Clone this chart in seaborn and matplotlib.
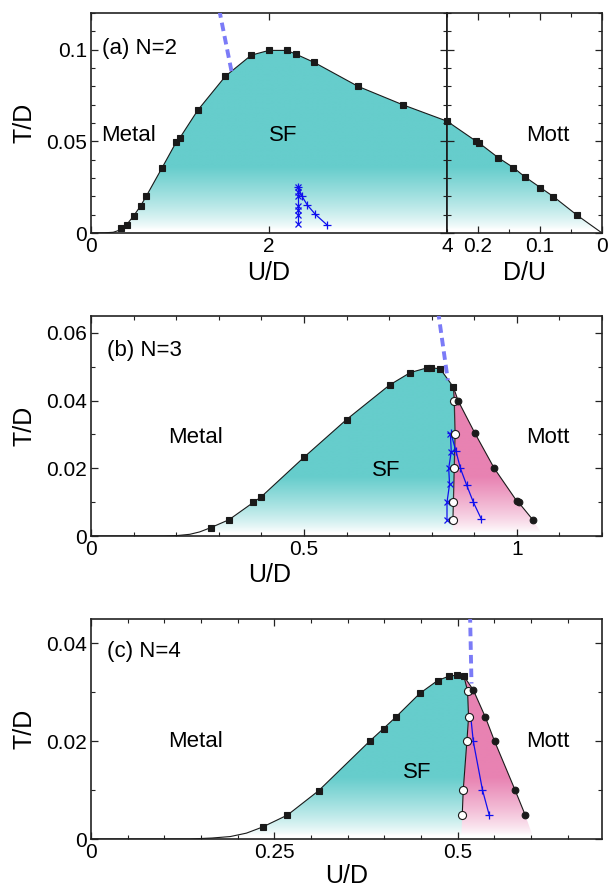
import numpy as np
import matplotlib
matplotlib.use("Agg")
import matplotlib.pyplot as plt
from matplotlib.colors import to_rgb
from matplotlib.ticker import MultipleLocator, FixedLocator
import seaborn as sns

# ---------------- data ----------------
# (a) N=2, left part in U/D
a_tail_U = [0.0, 0.15, 0.25, 0.30]
a_tail_T = [0.0, 0.0001, 0.0004, 0.0012]
a_sq_U = [0.334, 0.40, 0.48, 0.56, 0.62, 0.80, 0.96, 1.0, 1.2, 1.51, 1.80, 2.0, 2.2, 2.30, 2.51, 3.0, 3.5, 4.0]
a_sq_T = [0.0025, 0.0045, 0.0094, 0.015, 0.020, 0.0357, 0.0498, 0.052, 0.067, 0.0855, 0.097, 0.0996, 0.0996,
          0.0976, 0.093, 0.080, 0.070, 0.061]
# (a) right part in D/U
a_DU = [0.25, 0.2027, 0.199, 0.167, 0.143, 0.125, 0.0995, 0.0785, 0.0398]
a_DU_T = [0.061, 0.050, 0.0493, 0.041, 0.0357, 0.0308, 0.0248, 0.0199, 0.0096]
a_DU_end = [0.0]
a_DU_end_T = [0.0]
a_x_U = [2.33, 2.33, 2.33, 2.33, 2.33, 2.33, 2.33]
a_x_T = [0.025, 0.0225, 0.02, 0.015, 0.0125, 0.01, 0.005]
a_plus_U = [2.33, 2.367, 2.43, 2.52, 2.65]
a_plus_T = [0.025, 0.0203, 0.0153, 0.0102, 0.0045]
a_dash_U = [1.44, 1.58]
a_dash_T = [0.122, 0.0879]

# (b) N=3
b_tail_U = [0.0, 0.17, 0.20, 0.232, 0.255]
b_tail_T = [0.0, 0.0, 0.0001, 0.0005, 0.0012]
b_sq_U = [0.281, 0.324, 0.3815, 0.400, 0.4996, 0.600, 0.701, 0.750, 0.790, 0.799, 0.820, 0.851]
b_sq_T = [0.00246, 0.0048, 0.00995, 0.0116, 0.0232, 0.0344, 0.0446, 0.0483, 0.0497, 0.0497, 0.0494, 0.0440]
b_open_U = [0.853, 0.855, 0.853, 0.851, 0.850]
b_open_T = [0.040, 0.0302, 0.020, 0.00995, 0.0048]
b_fill_U = [0.862, 0.901, 0.947, 1.0, 1.004, 1.0375]
b_fill_T = [0.040, 0.0305, 0.020, 0.0103, 0.00995, 0.0048]
b_x_U = [0.844, 0.846, 0.840, 0.842, 0.836, 0.836]
b_x_T = [0.0301, 0.0249, 0.020, 0.0153, 0.00995, 0.0048]
b_plus_U = [0.845, 0.857, 0.8675, 0.882, 0.898, 0.917]
b_plus_T = [0.0304, 0.0251, 0.020, 0.0151, 0.00995, 0.0049]
b_dash_U = [0.815, 0.838]
b_dash_T = [0.0665, 0.046]
b_pink_bottom_U = [1.062, 0.850]   # where the pink region meets the T axis
b_pink_bottom_T = [0.0, 0.0]

# (c) N=4
c_tail_U = [0.0, 0.135, 0.165, 0.19, 0.212]
c_tail_T = [0.0, 0.0, 0.0002, 0.0005, 0.0012]
c_sq_U = [0.234, 0.268, 0.3105, 0.380, 0.399, 0.4155, 0.4486, 0.4727, 0.488, 0.4986, 0.5086]
c_sq_T = [0.00245, 0.0049, 0.00988, 0.0200, 0.0226, 0.0249, 0.0298, 0.0324, 0.0333, 0.0335, 0.0333]
c_open_U = [0.5136, 0.515, 0.5127, 0.5077, 0.5064]
c_open_T = [0.0303, 0.0249, 0.020, 0.00995, 0.005]
c_fill_U = [0.5214, 0.538, 0.5505, 0.5786, 0.592]
c_fill_T = [0.0305, 0.0249, 0.020, 0.00995, 0.005]
c_plus_U = [0.518, 0.5214, 0.534, 0.543]
c_plus_T = [0.025, 0.020, 0.010, 0.005]
c_dash_U = [0.517, 0.519]
c_dash_T = [0.046, 0.0318]
c_pink_bottom_U = [0.604, 0.505]
c_pink_bottom_T = [0.0, 0.0]

# ---------------- style ----------------
sns.set_theme(style="ticks")
plt.rcParams["font.family"] = ["Liberation Sans", "DejaVu Sans"]
plt.rcParams["axes.linewidth"] = 1.2
plt.rcParams["axes.edgecolor"] = "#222222"
plt.rcParams["text.color"] = "black"
plt.rcParams["axes.labelcolor"] = "black"

TEAL = "#66cdcc"
PINK = "#e882b2"
DASH = "#7b7bf7"
BLUE = "#1010ee"
TICKFS = 15
LABFS = 18
TXTFS = 16
SQ = 4.8

fig = plt.figure(figsize=(6.16, 8.88), dpi=100)
W, H = 616.0, 888.0


def axes_px(l, r, t, b):
    return fig.add_axes([l / W, (H - b) / H, (r - l) / W, (b - t) / H])


def grad_fill(ax, xs, ys, color, f0=0.015, f1=0.30):
    poly = ax.fill(xs, ys, facecolor="none", edgecolor="none")[0]
    xl, yl = ax.get_xlim(), ax.get_ylim()
    n = 300
    f = np.linspace(0, 1, n)
    a = np.clip((f - f0) / (f1 - f0), 0, 1) ** 0.8
    rgb = np.array(to_rgb(color))
    img = (1 - a)[:, None, None] * np.ones(3) + a[:, None, None] * rgb
    im = ax.imshow(img, extent=[xl[0], xl[1], yl[0], yl[1]], origin="lower",
                   aspect="auto", zorder=0.5, interpolation="bilinear")
    im.set_clip_path(poly)
    ax.set_xlim(xl)
    ax.set_ylim(yl)


def style_ticks(ax):
    ax.tick_params(which="both", direction="in", top=True, right=True,
                   labelsize=TICKFS, colors="#222222", labelcolor="black", pad=3)
    ax.tick_params(which="major", length=5, width=0.9)
    ax.tick_params(which="minor", length=3, width=0.8)
    for s in ax.spines.values():
        s.set_visible(True)


def line(ax, x, y, color="k", lw=0.8, **kw):
    sns.lineplot(x=x, y=y, sort=False, estimator=None, color=color, lw=lw, ax=ax, zorder=3, **kw)


def markers(ax, x, y, marker, size=SQ, mfc="k", mec="k", mew=0.8, z=4):
    sns.lineplot(x=x, y=y, sort=False, estimator=None, linestyle="", marker=marker,
                 markersize=size, markerfacecolor=mfc, markeredgecolor=mec,
                 markeredgewidth=mew, ax=ax, zorder=z)


# ================= panel (a) =================
axL = axes_px(91, 447, 13, 233)
axR = axes_px(447, 602, 13, 233)
for ax in (axL, axR):
    ax.set_ylim(0, 0.12)
axL.set_xlim(0, 4)
axR.set_xlim(0.25, 0)

curveU = a_tail_U + a_sq_U
curveT = a_tail_T + a_sq_T
grad_fill(axL, curveU + [4.0, 0.0], curveT + [0.0, 0.0], TEAL)
grad_fill(axR, a_DU + a_DU_end + [0.25], a_DU_T + a_DU_end_T + [0.0], TEAL)

line(axL, curveU, curveT)
markers(axL, a_sq_U, a_sq_T, "s")
line(axR, a_DU + a_DU_end, a_DU_T + a_DU_end_T)
markers(axR, a_DU, a_DU_T, "s")
line(axL, a_dash_U, a_dash_T, color=DASH, lw=2.8, linestyle=(0, (2.2, 1.3)))
line(axL, a_x_U, a_x_T, color=BLUE, lw=0.9)
markers(axL, a_x_U, a_x_T, "x", size=4.5, mfc=BLUE, mec=BLUE, mew=0.9)
line(axL, a_plus_U, a_plus_T, color=BLUE, lw=0.9)
markers(axL, a_plus_U, a_plus_T, "+", size=5.5, mfc=BLUE, mec=BLUE, mew=0.9)

axL.text(0.12, 0.1005, "(a) N=2", fontsize=TXTFS, ha="left", va="center")
axL.text(0.42, 0.0534, "Metal", fontsize=TXTFS, ha="center", va="center")
axL.text(2.16, 0.0534, "SF", fontsize=TXTFS, ha="center", va="center")
axR.text(0.087, 0.0534, "Mott", fontsize=TXTFS, ha="center", va="center")

for ax in (axL, axR):
    style_ticks(ax)
    ax.yaxis.set_major_locator(FixedLocator([0, 0.05, 0.1]))
    ax.yaxis.set_minor_locator(MultipleLocator(0.01))
axL.set_yticklabels(["0", "0.05", "0.1"])
axR.set_yticklabels([])
axL.xaxis.set_major_locator(FixedLocator([0, 2, 4]))
axL.set_xticklabels(["0", "2", "4"])
axR.xaxis.set_major_locator(FixedLocator([0.2, 0.1, 0.0]))
axR.set_xticklabels(["0.2", "0.1", "0"])
axR.xaxis.set_minor_locator(FixedLocator([0.25, 0.15, 0.05]))
axL.spines["right"].set_color("k")
axR.spines["left"].set_color("k")
axL.set_xlabel("U/D", fontsize=LABFS)
axR.set_xlabel("D/U", fontsize=LABFS)
axL.set_ylabel("T/D", fontsize=LABFS)
axL.xaxis.set_label_coords(0.5, -0.125)
axR.xaxis.set_label_coords(0.5, -0.125)
axL.yaxis.set_label_coords((36 - 91) / 356.0, 0.5)

# ================= panel (b) =================
axb = axes_px(91, 602, 316, 536)
axb.set_xlim(0, 1.2)
axb.set_ylim(0, 0.065)
curveU = b_tail_U + b_sq_U
curveT = b_tail_T + b_sq_T
grad_fill(axb, curveU + b_open_U + [b_open_U[-1]], curveT + b_open_T + [0.0], TEAL, f1=0.27)
pinkU = [b_sq_U[-1]] + b_fill_U + b_pink_bottom_U + b_open_U[::-1]
pinkT = [b_sq_T[-1]] + b_fill_T + b_pink_bottom_T + b_open_T[::-1]
grad_fill(axb, pinkU, pinkT, PINK, f1=0.27)

line(axb, curveU, curveT)
markers(axb, b_sq_U, b_sq_T, "s")
line(axb, [b_sq_U[-1]] + b_open_U, [b_sq_T[-1]] + b_open_T, color="#333333", lw=0.9)
line(axb, [b_sq_U[-1]] + b_fill_U, [b_sq_T[-1]] + b_fill_T)
line(axb, b_dash_U, b_dash_T, color=DASH, lw=2.8, linestyle=(0, (2.2, 1.3)))
line(axb, b_x_U, b_x_T, color=BLUE, lw=0.9)
markers(axb, b_x_U, b_x_T, "x", size=4.5, mfc=BLUE, mec=BLUE, mew=0.9)
line(axb, b_plus_U, b_plus_T, color=BLUE, lw=0.9)
markers(axb, b_plus_U, b_plus_T, "+", size=5.5, mfc=BLUE, mec=BLUE, mew=0.9)
markers(axb, b_open_U, b_open_T, "o", size=5.8, mfc="white", mec="k", mew=0.8, z=5)
markers(axb, b_fill_U, b_fill_T, "o", size=4.8, z=5)

axb.text(0.037, 0.0547, "(b) N=3", fontsize=TXTFS, ha="left", va="center")
axb.text(0.2455, 0.029, "Metal", fontsize=TXTFS, ha="center", va="center")
axb.text(0.6935, 0.0195, "SF", fontsize=TXTFS, ha="center", va="center")
axb.text(1.073, 0.029, "Mott", fontsize=TXTFS, ha="center", va="center")

style_ticks(axb)
axb.xaxis.set_major_locator(FixedLocator([0, 0.5, 1.0]))
axb.set_xticklabels(["0", "0.5", "1"])
axb.xaxis.set_minor_locator(MultipleLocator(0.1))
axb.yaxis.set_major_locator(FixedLocator([0, 0.02, 0.04, 0.06]))
axb.set_yticklabels(["0", "0.02", "0.04", "0.06"])
axb.yaxis.set_minor_locator(MultipleLocator(0.01))
axb.set_xlabel("U/D", fontsize=LABFS)
axb.set_ylabel("T/D", fontsize=LABFS)
axb.xaxis.set_label_coords(0.35, -0.125)
axb.yaxis.set_label_coords((36 - 91) / 511.0, 0.5)

# ================= panel (c) =================
axc = axes_px(91, 602, 619, 839)
axc.set_xlim(0, 0.697)
axc.set_ylim(0, 0.045)
curveU = c_tail_U + c_sq_U
curveT = c_tail_T + c_sq_T
grad_fill(axc, curveU + c_open_U + [c_open_U[-1]], curveT + c_open_T + [0.0], TEAL, f1=0.28)
pinkU = [c_sq_U[-1]] + c_fill_U + c_pink_bottom_U + c_open_U[::-1]
pinkT = [c_sq_T[-1]] + c_fill_T + c_pink_bottom_T + c_open_T[::-1]
grad_fill(axc, pinkU, pinkT, PINK, f1=0.28)

line(axc, curveU, curveT)
markers(axc, c_sq_U, c_sq_T, "s")
line(axc, [c_sq_U[-1]] + c_open_U, [c_sq_T[-1]] + c_open_T)
line(axc, [c_sq_U[-1]] + c_fill_U, [c_sq_T[-1]] + c_fill_T)
line(axc, c_dash_U, c_dash_T, color=DASH, lw=2.8, linestyle=(0, (2.2, 1.3)))
line(axc, c_plus_U, c_plus_T, color=BLUE, lw=0.9)
markers(axc, c_plus_U[1:], c_plus_T[1:], "+", size=5.5, mfc=BLUE, mec=BLUE, mew=0.9)
markers(axc, c_open_U, c_open_T, "o", size=5.8, mfc="white", mec="k", mew=0.8, z=5)
markers(axc, c_fill_U, c_fill_T, "o", size=4.8, z=5)

axc.text(0.0214, 0.0383, "(c) N=4", fontsize=TXTFS, ha="left", va="center")
axc.text(0.1427, 0.020, "Metal", fontsize=TXTFS, ha="center", va="center")
axc.text(0.445, 0.0136, "SF", fontsize=TXTFS, ha="center", va="center")
axc.text(0.6236, 0.020, "Mott", fontsize=TXTFS, ha="center", va="center")

style_ticks(axc)
axc.xaxis.set_major_locator(FixedLocator([0, 0.25, 0.5]))
axc.set_xticklabels(["0", "0.25", "0.5"])
axc.xaxis.set_minor_locator(MultipleLocator(0.05))
axc.yaxis.set_major_locator(FixedLocator([0, 0.02, 0.04]))
axc.set_yticklabels(["0", "0.02", "0.04"])
axc.yaxis.set_minor_locator(MultipleLocator(0.01))
axc.set_xlabel("U/D", fontsize=LABFS)
axc.set_ylabel("T/D", fontsize=LABFS)
axc.xaxis.set_label_coords(0.5, -0.112)
axc.yaxis.set_label_coords((36 - 91) / 511.0, 0.5)

fig.savefig("out.png", dpi=100)
